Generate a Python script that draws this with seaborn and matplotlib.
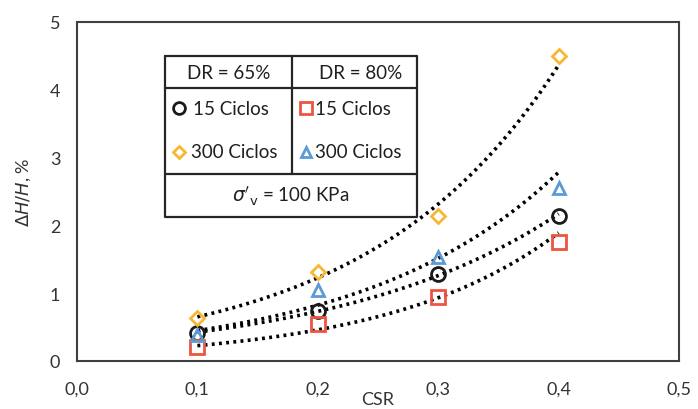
import numpy as np
import pandas as pd
import matplotlib
matplotlib.use("Agg")
import matplotlib.pyplot as plt
from matplotlib.ticker import FuncFormatter
import seaborn as sns

# datos
csr = [0.1, 0.2, 0.3, 0.4]
dr65_15 = [0.42, 0.74, 1.28, 2.14]
dr65_300 = [0.64, 1.31, 2.14, 4.50]
dr80_15 = [0.20, 0.55, 0.95, 1.76]
dr80_300 = [0.38, 1.05, 1.53, 2.55]

x_ticks = [0.0, 0.1, 0.2, 0.3, 0.4, 0.5]
y_ticks = [0, 1, 2, 3, 4, 5]

series = [
    ("DR65 15", dr65_15, "o", "#1a1a1a"),
    ("DR65 300", dr65_300, "D", "#F7B733"),
    ("DR80 15", dr80_15, "s", "#EE5540"),
    ("DR80 300", dr80_300, "^", "#5B9BD5"),
]

sns.set_style("white")
plt.rcParams["font.family"] = ["Lato", "DejaVu Sans"]
plt.rcParams["mathtext.fontset"] = "dejavusans"

fig = plt.figure(figsize=(6.98, 4.10), dpi=100)
ax = fig.add_axes([77 / 698, 48 / 410, 602 / 698, 339 / 410])

for name, vals, mk, col in series:
    df = pd.DataFrame({"csr": csr, "dh": vals})
    # linea de tendencia exponencial (como en Excel)
    b, a = np.polyfit(df["csr"], np.log(df["dh"]), 1)
    xs = np.linspace(min(csr), max(csr), 100)
    fit = pd.DataFrame({"csr": xs, "dh": np.exp(a) * np.exp(b * xs)})
    sns.lineplot(data=fit, x="csr", y="dh", ax=ax, color="black",
                 linestyle=(0, (0.8, 1.2)), linewidth=2.6, zorder=2)
    ms = {"o": 10, "s": 10, "D": 7, "^": 9}[mk]
    sns.lineplot(data=df, x="csr", y="dh", ax=ax, marker=mk, linestyle="",
                 ms=ms, mfc="none", mec=col, mew=2, zorder=3)

ax.set_xlim(0, 0.5)
ax.set_ylim(0, 5)
ax.set_xticks(x_ticks)
ax.set_yticks(y_ticks)
ax.xaxis.set_major_formatter(FuncFormatter(lambda v, p: f"{v:.1f}".replace(".", ",")))
ax.yaxis.set_major_formatter(FuncFormatter(lambda v, p: f"{v:.0f}"))
ax.tick_params(axis="both", direction="in", length=6, width=1.2, colors="#404040",
               labelcolor="#333333", labelsize=13, pad=12)
ax.tick_params(axis="x", pad=14)
for s in ax.spines.values():
    s.set_color("#404040")
    s.set_linewidth(1.5)

ax.set_xlabel("CSR", fontsize=13, color="#333333", labelpad=-4)
ax.set_ylabel(r"$\Delta H/H$, %", fontsize=13, color="#333333", labelpad=12)

# tabla de leyenda
T = ax.transAxes
x0, x1, xm = 0.146, 0.565, 0.357
y0, y1, y2, y3 = 0.900, 0.805, 0.552, 0.425
kw = dict(transform=T, color="#262626", lw=1.6, zorder=5)
ax.plot([x0, x1, x1, x0, x0], [y0, y0, y3, y3, y0], **kw)
ax.plot([x0, x1], [y1, y1], **kw)
ax.plot([x0, x1], [y2, y2], **kw)
ax.plot([xm, xm], [y0, y2], **kw)

tk = dict(transform=T, fontsize=13.5, color="#1f1f1f", va="center", zorder=6)
ax.text((x0 + xm) / 2, (y0 + y1) / 2, "DR = 65%", ha="center", **tk)
ax.text((xm + x1) / 2 + 0.01, (y0 + y1) / 2, "DR = 80%", ha="center", **tk)

ya, yb = 0.745, 0.617
leg = [
    (0.170, ya, "o", "#1a1a1a", "15 Ciclos", 0.192),
    (0.170, yb, "D", "#F7B733", "300 Ciclos", 0.190),
    (0.381, ya, "s", "#EE5540", "15 Ciclos", 0.396),
    (0.381, yb, "^", "#5B9BD5", "300 Ciclos", 0.396),
]
for lx, ly, mk, col, txt, tx in leg:
    ms = {"o": 8.5, "s": 8.5, "D": 6, "^": 7.5}[mk]
    ax.plot([lx], [ly], marker=mk, ms=ms, mfc="none", mec=col, mew=2,
            transform=T, zorder=6, linestyle="")
    ax.text(tx, ly, txt, ha="left", **tk)

ax.text((x0 + x1) / 2, (y2 + y3) / 2, r"$\sigma'_{\mathrm{v}}$ = 100 KPa",
        ha="center", **tk)

fig.savefig("out.png", dpi=100)
